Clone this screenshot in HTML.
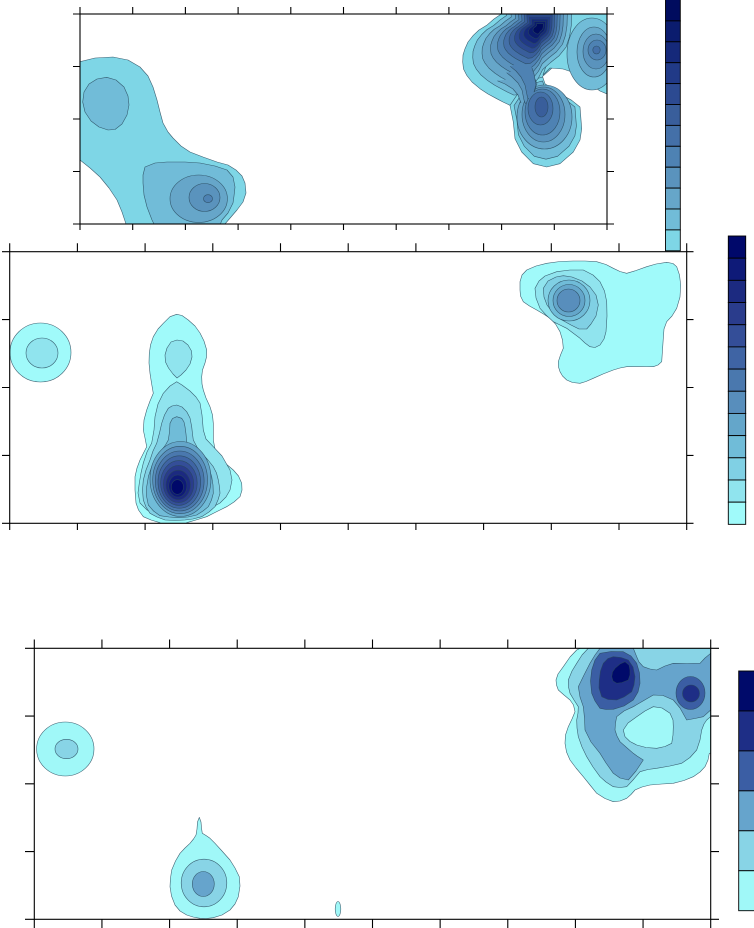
<!DOCTYPE html>
<html><head><meta charset="utf-8"><style>
html,body{margin:0;padding:0;background:#fff;}
svg{display:block;}
.s{stroke:#28485c;stroke-width:0.6;stroke-opacity:0.85;stroke-linejoin:round;vector-effect:non-scaling-stroke;}
.ln{fill:none;stroke:#28485c;stroke-width:0.6;stroke-opacity:0.85;stroke-linejoin:round;}
.ax{fill:none;stroke:#000;stroke-width:1.1;}
.cb{stroke:#000;stroke-width:0.9;}
</style></head><body>
<svg width="754" height="928" viewBox="0 0 754 928" xmlns="http://www.w3.org/2000/svg">
<defs>
<clipPath id="c1"><rect x="80" y="14" width="527" height="210"/></clipPath>
<clipPath id="c2"><rect x="9.7" y="251.7" width="677" height="271.6"/></clipPath>
<clipPath id="c3"><rect x="34.3" y="648.3" width="676.4" height="271"/></clipPath>
<polygon id="pM" class="s" points="500,-10 501.7,13.7 494,19 486.7,25.3 479,30 473.3,35.3 468,42 465,48.7 463,55 462.7,62 463.5,69 466.7,75.3 472,82 480,88.7 488,94 496.7,98.7 503,102 510,105.3 520,104 530,96 538,86 543,76 552,68 562,60 570,50 574,38 576,25 577,-10"/>
<polygon id="pS" class="s" points="510,105.3 513.3,122 515,138.7 521.7,152 533.3,163.7 546.7,167 560,163.7 573.3,152 580,140 581.7,128.7 580,107 571.7,100.3 556.7,92 545,83.7 542.7,77 536.7,78.7 526.7,85.3 516.7,95.3"/>
<polygon id="pR" class="s" points="556,-10 556,14 553,35 549,55 546,66 543,75 550,68 563,69 575,73 585,80 593,86 600,91 607,94 614,95 614,-10"/>
</defs>

<!-- PANEL 1 -->
<g clip-path="url(#c1)">
  <polygon class="s" fill="#7ed6e6" points="75,62 80,61.7 95,58 113,57 128,60 140,67 148,76 153,87 157,100 160,112 163,123 168,132 173,138 181,146 190,152 203,157 217,162 228,165 236,170 242,176 245,183 246,193 243,202 237,210 231,217 225,224 222,230 128,230 122,212 117,200 109,188 100,177 90,168 80,160 75,158"/>
  <polygon class="s" fill="#71bcd8" points="106.7,77.3 116,80 124,87 128,96 129,105 127,115 122,124 115,129.5 108,130 99,127 91,121 85,112 82.7,102 84,92 89,84 97,79"/>
  <polygon class="s" fill="#71bcd8" points="145,167 155,163 167,162 185,162 200,163 215,166 227,170 233,177 235,187 234,196 233,203 228,213 222,220 218,230 157,230 152,220 147,207 144,195 143,183 143,175"/>
  <ellipse class="s" fill="#66a6c9" cx="198.7" cy="198.7" rx="28.7" ry="23.7"/>
  <ellipse class="s" fill="#5a93bd" cx="204.5" cy="197.5" rx="15.5" ry="14"/>
  <ellipse class="s" fill="#4e82b3" cx="208" cy="198.7" rx="4.5" ry="4"/>

  <!-- right cluster -->
  <use href="#pM" fill="#7ed6e6"/>
  <use href="#pS" fill="#7ed6e6"/>
  <use href="#pR" fill="#7ed6e6"/>

  <use href="#pM" fill="#71bcd8" transform="translate(540 27) scale(0.87) translate(-540 -27)"/>
  <use href="#pS" fill="#71bcd8" transform="translate(541 107) scale(0.87) translate(-541 -107)"/>
  <ellipse class="s" fill="#71bcd8" cx="592" cy="54" rx="25" ry="36"/>

  <use href="#pM" fill="#66a6c9" transform="translate(540 27) scale(0.75) translate(-540 -27)"/>
  <ellipse class="s" fill="#66a6c9" cx="544.5" cy="117" rx="27.5" ry="32"/>
  <polygon fill="#66a6c9" points="497.5,80.8 505,84 513,89 518,95 521,103 528,97 534,90 537,84 532,76 522,76 510,79"/>
  <polyline class="ln" points="497.5,80.8 505,84 513,89 518,95 521,103"/>
  <polyline class="ln" points="528,97 534,90 537,84 535,79"/>
  <ellipse class="s" fill="#66a6c9" cx="594" cy="52" rx="17" ry="25"/>

  <use href="#pM" fill="#5a93bd" transform="translate(540 27) scale(0.64) translate(-540 -27)"/>
  <ellipse class="s" fill="#5a93bd" cx="543.5" cy="114.5" rx="21.5" ry="27.5"/>
  <polygon fill="#5a93bd" points="506.6,72.7 512,77 518,83 522,90 524,100 527,106 532,95 536,88 534,80 530,72 520,70"/>
  <polyline class="ln" points="506.6,72.7 512,77 518,83 522,90 524,100 525.5,104"/>
  <polyline class="ln" points="532,95 536,88 534,80 532,75"/>
  <ellipse class="s" fill="#5a93bd" cx="596" cy="51.5" rx="13" ry="17.5"/>

  <use href="#pM" fill="#4e82b3" transform="translate(540 27) scale(0.55) translate(-540 -27)"/>
  <ellipse class="s" fill="#4e82b3" cx="542.5" cy="112" rx="17.5" ry="23"/>
  <polygon fill="#4e82b3" points="510.2,66.3 516,71 521,77 525,85 527,95 530,100 534,92 536,85 534,74 530,64 520,63"/>
  <polyline class="ln" points="510.2,66.3 516,71 521,77 525,85 527,95 528,99"/>
  <polyline class="ln" points="534,92 536,85 534,74 532,68"/>
  <ellipse class="s" fill="#4e82b3" cx="597" cy="50" rx="9" ry="10"/>

  <use href="#pM" fill="#4470a8" transform="translate(540 27) scale(0.47) translate(-540 -27)"/>
  <ellipse class="s" fill="#4470a8" cx="540.5" cy="108.5" rx="12.5" ry="16.5"/>
  <ellipse class="s" fill="#4470a8" cx="596.5" cy="50" rx="3.7" ry="4"/>

  <use href="#pM" fill="#395e9b" transform="translate(540 27) scale(0.40) translate(-540 -27)"/>
  <ellipse class="s" fill="#395e9b" cx="541.5" cy="107" rx="6.5" ry="10"/>

  <use href="#pM" fill="#2c4a91" transform="translate(540 27) scale(0.33) translate(-540 -27)"/>
  <use href="#pM" fill="#213a87" transform="translate(540 27) scale(0.27) translate(-540 -27)"/>
  <use href="#pM" fill="#15297a" transform="translate(540 27) scale(0.21) translate(-540 -27)"/>
  <use href="#pM" fill="#0b1c6e" transform="translate(540 27) scale(0.15) translate(-540 -27)"/>
  <use href="#pM" fill="#000c5e" transform="translate(540 27) scale(0.09) translate(-540 -27)"/>
</g>
<rect class="ax" x="80" y="14" width="527" height="210"/>
<path class="ax" d="M80 7V14M132.7 7V14M185.4 7V14M238.1 7V14M290.8 7V14M343.5 7V14M396.2 7V14M448.9 7V14M501.6 7V14M554.3 7V14M607 7V14
M80 224V230M132.7 224V230M185.4 224V230M238.1 224V230M290.8 224V230M343.5 224V230M396.2 224V230M448.9 224V230M501.6 224V230M554.3 224V230M607 224V230
M73 14H80M73 66.5H80M73 119H80M73 171.5H80M73 224H80
M607 14H614M607 66.5H614M607 119H614M607 171.5H614M607 224H614"/>

<!-- Colorbar 1 -->
<g class="cb">
<rect x="665.5" y="-1" width="14.8" height="21.9" fill="#000c5e"/>
<rect x="665.5" y="20.9" width="14.8" height="20.9" fill="#0b1c6e"/>
<rect x="665.5" y="41.8" width="14.8" height="20.9" fill="#15297a"/>
<rect x="665.5" y="62.7" width="14.8" height="20.9" fill="#213a87"/>
<rect x="665.5" y="83.6" width="14.8" height="20.9" fill="#2c4a91"/>
<rect x="665.5" y="104.5" width="14.8" height="20.9" fill="#395e9b"/>
<rect x="665.5" y="125.4" width="14.8" height="20.9" fill="#4470a8"/>
<rect x="665.5" y="146.3" width="14.8" height="20.9" fill="#4e82b3"/>
<rect x="665.5" y="167.2" width="14.8" height="20.9" fill="#5a93bd"/>
<rect x="665.5" y="188.1" width="14.8" height="20.9" fill="#66a6c9"/>
<rect x="665.5" y="209" width="14.8" height="20.9" fill="#71bcd8"/>
<rect x="665.5" y="229.9" width="14.8" height="20.9" fill="#7ed6e6"/>
</g>

<!-- PANEL 2 -->
<g clip-path="url(#c2)">
  <ellipse class="s" fill="#a0fafa" cx="40.5" cy="352.5" rx="30.5" ry="29.5"/>
  <ellipse class="s" fill="#90e4ee" cx="42" cy="353" rx="16" ry="15"/>

  <polygon class="s" fill="#a0fafa" points="176.7,314.3 182,315.5 188.3,320 195,326 200,333 204,341 206.7,350 206.5,357 205,363 202.5,370 201.7,376.7 202,384 203.3,390 206,398 210,406.7 212.5,415 213.3,423.3 213.3,432 213.3,440 215,449 218.3,456.7 225,463 233.3,470 238.5,476 241.7,483.3 242,490 240,496.7 234,502 226.7,506.7 216,512 206.7,516.7 196,520 186.7,522.7 186,528 160,528 160,522.7 151,520 143.3,516.7 138.5,510 136,503 135,490 135,476.7 137,468 140,460 143.5,453 146.7,446.7 145,438 143.3,430 144,420 146.7,410 150,401 153.3,393.3 151.5,383 150,373.3 149,363 149.3,353.3 150.5,345 153.3,336.7 158,329 163.3,323.3 170,316.7"/>
  <polygon class="s" fill="#90e4ee" points="177,340 183,341 188,345 191.5,351 192,357 190,364 186,370 181,375 177,378 173,374 168.5,368 165.5,362 165,355 167,348 171,342"/>
  <polygon class="s" fill="#90e4ee" points="176.7,381.7 182,385 190,391 196,397 200,403 202,415 203.3,430 206,439 213.3,446.7 222,456 230,470 232,480 230,490 226,497 220,503 211,508 200,513 190,516 180,517.5 168,517 156.7,515 147,510 140,503 138,493 139.3,483 141,473 143.3,463 147,452 151.7,443 154,430 155,416.7 158,404 163.3,393.3 170,386"/>
  <polygon class="s" fill="#80d0e4" points="176.7,405 182,407 186.7,411.7 190,418 191.7,426.7 192.5,434 193.3,440 197,447 201.7,453.3 208,460 213.3,466.7 216.5,473 218.3,480 219.5,487 220,493.3 218,500 215,506.7 209,512 201.7,516.7 193,519 185,520 175,520.5 165,520 157,517 150,513.3 146,507 143.3,500 142.5,490 143.3,480 146,470 150,460 153,451 156.7,443.3 159.5,433 161.7,423.3 164.5,415 168.3,408.3 172,406"/>
  <polygon class="s" fill="#70bcd8" points="176.7,416.7 181.7,418.3 184,422 185,426.7 186,434 186.7,441.7 188.5,445 191.7,448.3 198,454 205,460 209,468 211.7,476.7 213,485 213.3,493.3 211.5,500 208.3,506.7 203,511 196.7,515 188,517 178.3,517.7 169,517 160,515.7 153.5,511 148.3,505 146.5,496 146.7,486.7 148.5,476 151.7,466.7 156,458 161.7,450 165.5,445 168.3,440 169.5,432 170,423.3 172.5,418.5"/>
  <ellipse class="s" fill="#64a6ca" cx="180.5" cy="479" rx="30.5" ry="37.5"/>
  <ellipse class="s" fill="#588ebc" cx="180.1" cy="480" rx="27.4" ry="33.7"/>
  <ellipse class="s" fill="#4a78ae" cx="179.7" cy="481" rx="24.4" ry="30"/>
  <ellipse class="s" fill="#3f64a4" cx="179.3" cy="482" rx="21.3" ry="26.2"/>
  <ellipse class="s" fill="#344e98" cx="178.9" cy="483" rx="18.3" ry="22.4"/>
  <ellipse class="s" fill="#2a3c8c" cx="178.6" cy="484" rx="15.2" ry="18.6"/>
  <ellipse class="s" fill="#1c2a80" cx="178.2" cy="485" rx="12.2" ry="14.8"/>
  <ellipse class="s" fill="#0e1a78" cx="177.8" cy="486" rx="9.1" ry="11.1"/>
  <ellipse class="s" fill="#00086a" cx="177.4" cy="487" rx="6.1" ry="7.3"/>

  <polygon class="s" fill="#a0fafa" points="520,281.7 522,275 526.7,270 536,266 546.7,263.3 560,261.5 573.3,261 585,261 596.7,261.7 606,264.5 613.3,268.3 620,271.5 626.7,273.3 636,270.5 646.7,266.7 656,264 666.7,262.3 673,263.5 676.7,266.7 679.5,275 680.7,285 680,297 676.7,308.3 672,316 666.7,321.7 664,329 663.3,338.3 662.5,350 661.7,361.7 658,365 653.3,366.7 640,366.5 626.7,366.7 620,368 613.3,370 603,374 593.3,378.3 586,381.5 580,383.3 572.5,382.5 566.7,380 562.5,376 560,371.7 558.5,367 558.3,361.7 560.5,355 563.3,348.3 562.5,340 560,331.7 555.5,324 550,318.3 543.5,314 536.7,310 529.5,306 523.3,301.7 520.5,296 520,290"/>
  <polygon class="s" fill="#90e4ee" points="535,288.3 539,281 545,276 556.7,271.7 570,270 583.3,270 593,275 600,281.7 604.5,291 606.7,301.7 607,316 606,331.7 604,339 600,345 595,347.5 590,346.7 585,343 580,338.3 573,333 566.7,328.3 560,325 553.3,321.7 546,315 540,308.3 536,298"/>
  <polygon class="s" fill="#80d0e4" points="543.3,288.3 548,281 556,277 563.3,275.7 572,277 582,281 590,287 596,295 598.3,305 596,316 591,324 586.7,329 579,329 571,325 562,320 553,313 547,305 544,297"/>
  <ellipse class="s" fill="#70bcd8" cx="569" cy="300.5" rx="21" ry="20.5"/>
  <ellipse class="s" fill="#64a6ca" cx="569" cy="300.5" rx="16" ry="16"/>
  <ellipse class="s" fill="#588ebc" cx="568.5" cy="300.5" rx="11.5" ry="11.5"/>
</g>
<rect class="ax" x="9.7" y="251.7" width="677" height="271.6"/>
<path class="ax" d="M9.7 243.3V251.7M77.4 243.3V251.7M145.1 243.3V251.7M212.8 243.3V251.7M280.5 243.3V251.7M348.2 243.3V251.7M415.9 243.3V251.7M483.6 243.3V251.7M551.3 243.3V251.7M619 243.3V251.7M686.7 243.3V251.7
M9.7 523.3V530M77.4 523.3V530M145.1 523.3V530M212.8 523.3V530M280.5 523.3V530M348.2 523.3V530M415.9 523.3V530M483.6 523.3V530M551.3 523.3V530M619 523.3V530M686.7 523.3V530
M2 251.7H9.7M2 319.6H9.7M2 387.5H9.7M2 455.4H9.7M2 523.3H9.7
M686.7 251.7H693.5M686.7 319.6H693.5M686.7 387.5H693.5M686.7 455.4H693.5M686.7 523.3H693.5"/>

<!-- Colorbar 2 -->
<g class="cb">
<rect x="728.3" y="236" width="17.4" height="22.18" fill="#00086a"/>
<rect x="728.3" y="258.18" width="17.4" height="22.18" fill="#0e1a78"/>
<rect x="728.3" y="280.36" width="17.4" height="22.18" fill="#1c2a80"/>
<rect x="728.3" y="302.54" width="17.4" height="22.18" fill="#2a3c8c"/>
<rect x="728.3" y="324.72" width="17.4" height="22.18" fill="#344e98"/>
<rect x="728.3" y="346.9" width="17.4" height="22.18" fill="#3f64a4"/>
<rect x="728.3" y="369.08" width="17.4" height="22.18" fill="#4a78ae"/>
<rect x="728.3" y="391.26" width="17.4" height="22.18" fill="#588ebc"/>
<rect x="728.3" y="413.44" width="17.4" height="22.18" fill="#64a6ca"/>
<rect x="728.3" y="435.62" width="17.4" height="22.18" fill="#70bcd8"/>
<rect x="728.3" y="457.8" width="17.4" height="22.18" fill="#80d0e4"/>
<rect x="728.3" y="479.98" width="17.4" height="22.18" fill="#90e4ee"/>
<rect x="728.3" y="502.16" width="17.4" height="22.18" fill="#a0fafa"/>
</g>

<!-- PANEL 3 -->
<g clip-path="url(#c3)">
  <ellipse class="s" fill="#a0f8f8" cx="65.3" cy="749" rx="28.7" ry="27"/>
  <ellipse class="s" fill="#88d4e6" cx="66.5" cy="749" rx="11.5" ry="9.7"/>

  <polygon class="s" fill="#a0f8f8" points="199.3,817.3 201,822 201.5,828 202.3,833.3 206,835.5 210,838.3 215,843.3 222,851 230,860 235,868 239.3,876.7 240,886 238.3,896.7 235,904 230,910 222,915 213.3,917.7 206,918.5 200,918.3 193,917 186.7,915 180,911 175,905 171.5,896 170,886.7 170.5,878 171.7,870 175.5,861 180,853.3 185,848 190,843.3 193.5,839 196,835 197,829 197.5,822"/>
  <ellipse class="s" fill="#88d4e6" cx="204" cy="883" rx="22.8" ry="23.8"/>
  <ellipse class="s" fill="#66a4cc" cx="203.3" cy="884" rx="11" ry="12.5"/>
  <ellipse class="s" fill="#a0f8f8" cx="338" cy="909" rx="2.8" ry="7.5"/>

  <polygon class="s" fill="#a0f8f8" points="580,640 580,648.3 576.7,650 570,657 563.3,666.7 558,674 556,680 556.5,685 558.3,690 564,695 570,700 573.5,705 575,711.7 572,719 568.3,726.7 565.5,735 565,743.3 566.5,752 570,760 576,768 583.3,776.7 590,785 596.7,793.3 605,798.5 613.3,801.7 620,801 626.7,798.3 631,794.5 635,790 642,787 650,785 662,784 673.3,783.3 684,780.5 693.3,776.7 700,772 705,766.7 708,760 709.3,753.3 715,753 715,640"/>
  <polygon class="s" fill="#88d4e6" points="588.3,640 588.3,648.3 582,655 576.7,663.3 572,671 568.3,680 568.5,687 570,693.3 574,700 578.3,706.7 578,713 576.7,720 577,728 578.3,736.7 582,747 586.7,756.7 593,767 600,776.7 606,782 613.3,786.7 620,787.5 626.7,786.7 633,780 640,771.7 648,769.5 656.7,768.3 670,766 681.7,763.3 690,757.5 696.7,750 700,740 701.7,730 704,724 706.7,720 715,713 715,640"/>
  <polygon class="s" fill="#66a4cc" points="600,640 600,648.3 595,655 590,663.3 584,675 578.3,686.7 580,697 583.3,706.7 584.5,718 585,730 591,742 600,753.3 606,763 613.3,773.3 620,778 628.3,780 636,771 643.3,760 637,756 633.3,753.3 626,747 620,741.7 617,736 615,730 615.5,723 616.7,716.7 624,711 633.3,706.7 643,701 653.3,695 663,695.5 673.3,700 680,708 686.7,720 695,718.5 703.3,716.7 710.7,710 715,710 715,650 710.7,653.3 705,658 700,663.3 687,663.5 673.3,663.3 665,666 656.7,670 650,669 643.3,666.7 639,662 636.7,656.7 633.3,648.3 633.3,640"/>
  <polygon class="s" fill="#3b5ea4" points="600,653.3 611,651.5 623.3,651.7 631,656 636.7,663.3 639.5,673 640,683.3 638,692 633.3,700 624,706 613.3,709.3 606,709.5 600,708.3 595,701 591.7,693.3 590.5,681 591.7,670 595,660"/>
  <polygon class="s" fill="#1e2e86" points="613.3,656.7 621,657.5 628.3,660 633,667 635,676.7 634,685 631.7,691.7 624,697 616.7,700 608,699.5 601.7,696.7 599,688 599.3,680 600.5,671 603.3,663.3 608,658.5"/>
  <polygon class="s" fill="#000a6a" points="625,661.7 629,665 630,670 630,675 628.3,680 622,682.5 616.7,683.3 613,681 611.7,676.7 612.5,672 615,668.3 620,664"/>
  <ellipse class="s" fill="#3b5ea4" cx="690.5" cy="693" rx="14.5" ry="16.5"/>
  <ellipse class="s" fill="#1e2e86" cx="691" cy="693.5" rx="8.5" ry="8.5"/>
  <polygon class="s" fill="#a0f8f8" points="623.3,730 628,723 636.7,716.7 645,711 653.3,706.7 662,708 670,713.3 673,720 673.3,726.7 673,735 671.7,743.3 665,746.5 656.7,748.3 646,747.5 636.7,745 630,741.5 625,736.7"/>
</g>
<rect class="ax" x="34.3" y="648.3" width="676.4" height="271"/>
<path class="ax" d="M34.3 639.5V648.3M101.94 639.5V648.3M169.58 639.5V648.3M237.22 639.5V648.3M304.86 639.5V648.3M372.5 639.5V648.3M440.14 639.5V648.3M507.78 639.5V648.3M575.42 639.5V648.3M643.06 639.5V648.3M710.7 639.5V648.3
M34.3 919.3V928M101.94 919.3V928M169.58 919.3V928M237.22 919.3V928M304.86 919.3V928M372.5 919.3V928M440.14 919.3V928M507.78 919.3V928M575.42 919.3V928M643.06 919.3V928M710.7 919.3V928
M25 648.3H34.3M25 716.05H34.3M25 783.8H34.3M25 851.55H34.3M25 919.3H34.3
M710.7 648.3H719M710.7 716.05H719M710.7 783.8H719M710.7 851.55H719M710.7 919.3H719"/>

<!-- Colorbar 3 -->
<g class="cb">
<rect x="738.7" y="671" width="20" height="39.95" fill="#000a6a"/>
<rect x="738.7" y="710.95" width="20" height="39.95" fill="#1e2e86"/>
<rect x="738.7" y="750.9" width="20" height="39.95" fill="#3b5ea4"/>
<rect x="738.7" y="790.85" width="20" height="39.95" fill="#66a4cc"/>
<rect x="738.7" y="830.8" width="20" height="39.95" fill="#88d4e6"/>
<rect x="738.7" y="870.75" width="20" height="39.95" fill="#a0f8f8"/>
</g>
</svg>
</body></html>
